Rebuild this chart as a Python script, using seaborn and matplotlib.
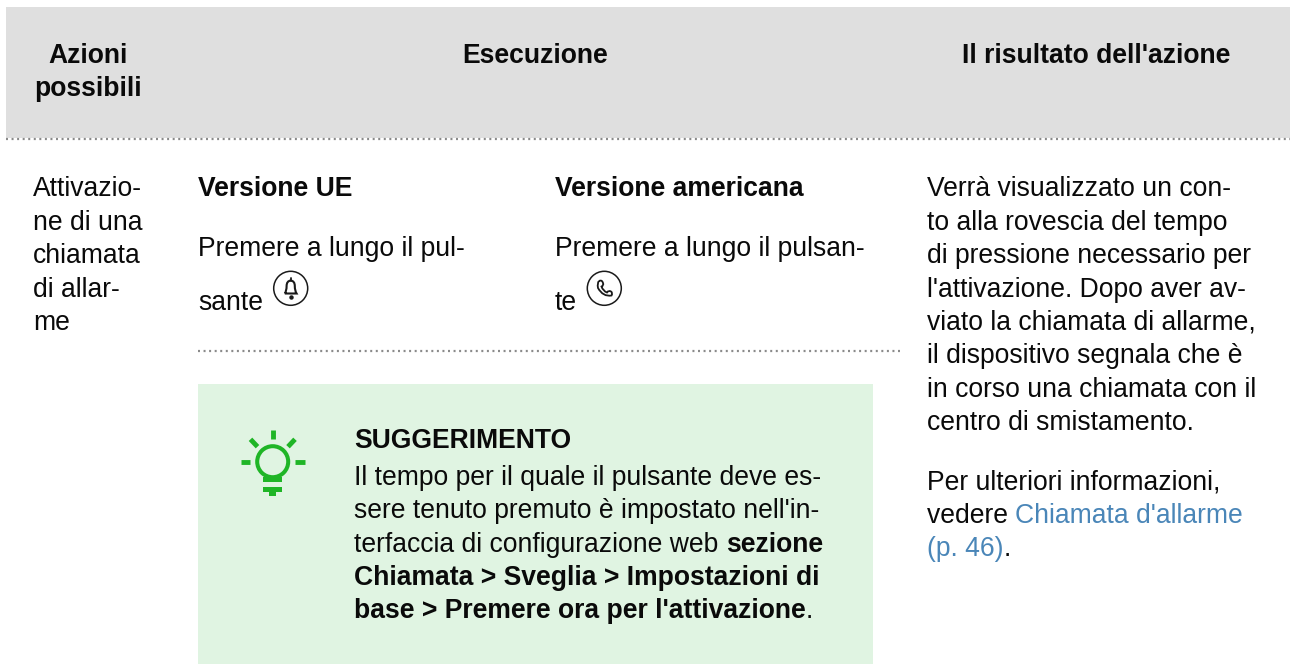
"""Table page: possible actions for the alarm call."""

import matplotlib.pyplot as plt
import numpy as np
import seaborn as sns
from matplotlib.patches import Circle, PathPatch, Rectangle
from matplotlib.path import Path

header_action = ["Azioni", "possibili"]
header_run = "Esecuzione"
header_result = "Il risultato dell'azione"
action_lines = ["Attivazio-", "ne di una", "chiamata", "di allar-", "me"]
eu_title = "Versione UE"
eu_lines = ["Premere a lungo il pul-", "sante"]
us_title = "Versione americana"
us_lines = ["Premere a lungo il pulsan-", "te"]
tip_title = "SUGGERIMENTO"
tip_lines = [
    [("Il tempo per il quale il pulsante deve es-", False)],
    [("sere tenuto premuto è impostato nell'in-", False)],
    [("terfaccia di configurazione web ", False), ("sezione", True)],
    [("Chiamata > Sveglia > Impostazioni di", True)],
    [("base > Premere ora per l'attivazione", True), (".", False)],
]
result_lines = [
    "Verrà visualizzato un con-",
    "to alla rovescia del tempo",
    "di pressione necessario per",
    "l'attivazione. Dopo aver av-",
    "viato la chiamata di allarme,",
    "il dispositivo segnala che è",
    "in corso una chiamata con il",
    "centro di smistamento.",
]
more_text = "Per ulteriori informazioni,"
see_text = "vedere "
link_lines = ["Chiamata d'allarme", "(p. 46)"]

sns.set_theme(style="white")
plt.rcParams["font.family"] = ["Liberation Sans", "DejaVu Sans"]

font_size = 19.1
line_step = 33.35
text_color = "#0a0a0a"
link_color = "#4a86b8"
green = "#1fb526"

fig = plt.figure(figsize=(12.9, 6.64), dpi=100)
ax = fig.add_axes([0, 0, 1, 1])
ax.set_xlim(0, 1290)
ax.set_ylim(664, 0)
ax.axis("off")
fig.canvas.draw()
renderer = fig.canvas.get_renderer()


def put(x, y, s, bold=False, color=text_color, ha="left"):
    return ax.text(x, y, s, fontsize=font_size, color=color, ha=ha, va="baseline",
                   fontweight="bold" if bold else "normal")


def put_block(x, y, lines, **kw):
    for i, line in enumerate(lines):
        put(x, y + i * line_step, line, **kw)


def put_runs(x, y, parts):
    """Write runs of text on one baseline, each starting where the last one ended."""
    for s, bold, color in parts:
        put(x, y, s, bold=bold, color=color)
        # trailing spaces are not measured, so a stand-in letter takes their place
        probe = put(0, 0, s[:-1] + "t" if s.endswith(" ") else s, bold=bold)
        x += probe.get_window_extent(renderer).width
        probe.remove()


def dotted(x0, x1, y):
    sns.lineplot(x=np.array([x0, x1]), y=np.array([y, y]), ax=ax, color="#8a8a8a", lw=1.6,
                 sort=False, errorbar=None, linestyle=(0, (0.9, 1.6)))


# backgrounds
ax.add_patch(Rectangle((6, 7), 1284, 131, fc="#dfdfdf", ec="none"))
ax.add_patch(Rectangle((198, 384), 675, 280, fc="#e0f4e2", ec="none"))
dotted(6, 1290, 138.5)
dotted(198, 900, 350.5)

# header
put(88.5, 62.7, header_action[0], bold=True, ha="center")
put(88.5, 96, header_action[1], bold=True, ha="center")
put(535.5, 62.7, header_run, bold=True, ha="center")
put(1096, 62.7, header_result, bold=True, ha="center")

# body columns
put_block(33, 196.5, action_lines)
put(198.5, 196.5, eu_title, bold=True)
put(198.5, 256, eu_lines[0])
put(198.5, 309.5, eu_lines[1])
put(555, 196.5, us_title, bold=True)
put(555, 256, us_lines[0])
put(555, 309.5, us_lines[1])
put_block(927, 196.5, result_lines)
put(927, 489.5, more_text)
put_runs(927, 522.8, [(see_text, False, text_color), (link_lines[0], False, link_color)])
put_runs(927, 556, [(link_lines[1], False, link_color), (".", False, text_color)])

# tip box
put(354, 448.5, tip_title, bold=True)
for i, parts in enumerate(tip_lines):
    put_runs(354, 485 + i * line_step, [(s, bold, text_color) for s, bold in parts])

# bulb icon
ax.add_patch(Circle((272.7, 461.7), 15.5, fc="none", ec=green, lw=2.9))
for x0, y0, x1, y1 in [(272.7, 430, 272.7, 439.3), (250.5, 439.3, 257.5, 446.7), (295, 439.3, 288, 446.7),
                       (240.7, 461.7, 250, 461.7), (295.3, 461.7, 304.7, 461.7)]:
    ax.plot([x0, x1], [y0, y1], color=green, lw=3.5, solid_capstyle="butt")
ax.add_patch(Rectangle((263.3, 477.3), 19, 5, fc=green, ec="none"))
ax.add_patch(Rectangle((263.3, 487.3), 19, 5, fc=green, ec="none"))
ax.add_patch(Rectangle((269.3, 492), 6.7, 3.7, fc=green, ec="none"))

# bell button
ax.add_patch(Circle((290.7, 288.3), 17, fc="none", ec="#1a1a1a", lw=1.1))
bell = Path(
    [(284.8, 293.5), (286.6, 291), (286.6, 286), (286.6, 281), (290.7, 280.5), (294.8, 281), (294.8, 286),
     (294.8, 291), (296.6, 293.5), (284.8, 293.5)],
    [Path.MOVETO, Path.CURVE3, Path.CURVE3, Path.CURVE3, Path.CURVE3, Path.CURVE3, Path.CURVE3,
     Path.CURVE3, Path.CURVE3, Path.LINETO],
)
ax.add_patch(PathPatch(bell, fc="none", ec="#1a1a1a", lw=1.5))
ax.plot([290.7], [296.6], marker="o", ms=2.2, color="#1a1a1a")
ax.plot([290.7, 290.7], [278.3, 280.5], color="#1a1a1a", lw=1.3)

# phone button
ax.add_patch(Circle((604.3, 288.3), 17, fc="none", ec="#1a1a1a", lw=1.1))
phone = Path(
    [(599, 281), (602, 279.5), (603, 283), (604, 285.5), (601.5, 286.5), (603, 291), (607, 292.5),
     (608.5, 290), (611, 291.5), (613, 293), (611.5, 295.5), (603, 297), (598, 288), (597, 283), (599, 281)],
    [Path.MOVETO, Path.CURVE3, Path.CURVE3, Path.CURVE3, Path.CURVE3, Path.CURVE3, Path.CURVE3,
     Path.CURVE3, Path.CURVE3, Path.CURVE3, Path.CURVE3, Path.CURVE3, Path.CURVE3, Path.CURVE3, Path.CURVE3],
)
ax.add_patch(PathPatch(phone, fc="none", ec="#1a1a1a", lw=1.3))

ax.set_xlim(0, 1290)
ax.set_ylim(664, 0)
fig.savefig("out.png", dpi=100)
